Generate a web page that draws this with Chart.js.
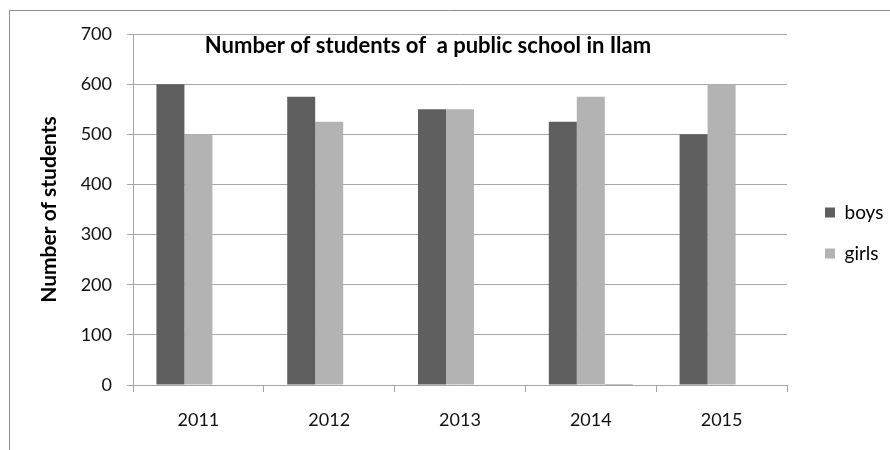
<!DOCTYPE html>
<html>
<head>
<meta charset="utf-8">
<script src="https://cdn.jsdelivr.net/npm/chart.js@4.4.1/dist/chart.umd.min.js"></script>
<style>
  html, body { margin: 0; padding: 0; background: #ffffff; }
  #wrap { position: relative; width: 890px; height: 450px; }
</style>
</head>
<body>
<div id="wrap"><canvas id="c" width="890" height="450"></canvas></div>
<script>
const categories = ['2011', '2012', '2013', '2014', '2015'];
const boys = [600, 575, 550, 525, 500];
const girls = [500, 525, 550, 575, 600];
const series3 = [0, 0, 0, 2, 0];
const yTicks = [0, 100, 200, 300, 400, 500, 600, 700];
const chartTitle = 'Number of students of  a public school in Ilam';
const yTitle = 'Number of students';

const FONT = 'Lato, "Open Sans", sans-serif';
const GRID = '#a6a6a6';

const framePlugin = {
  id: 'frame',
  afterInit(chart) {
    const lg = chart.legend;
    if (lg) {
      const origFit = lg.fit.bind(lg);
      lg.fit = function () { origFit(); this.width = 103; };
    }
  },
  afterLayout(chart) {
    const lg = chart.legend;
    if (lg) {
      lg.left = 803; lg.right = 890;
      lg.top = 181; lg.bottom = 310; lg.height = 129;
    }
  },
  beforeDraw(chart) {
    const ctx = chart.ctx;
    ctx.save();
    ctx.fillStyle = '#ffffff';
    ctx.fillRect(0, 0, chart.width, chart.height);
    ctx.strokeStyle = '#8c8c8c';
    ctx.lineWidth = 1;
    ctx.beginPath();
    ctx.moveTo(9.5, chart.height);
    ctx.lineTo(9.5, 10.5);
    ctx.lineTo(chart.width, 10.5);
    ctx.stroke();
    ctx.restore();
  },
  afterDraw(chart) {
    const ctx = chart.ctx;
    const a = chart.chartArea;
    ctx.save();
    ctx.font = 'bold 22px ' + FONT;
    ctx.fillStyle = '#000000';
    ctx.textAlign = 'center';
    ctx.textBaseline = 'middle';
    ctx.fillText(chartTitle, a.left + 295, a.top + 12);
    ctx.restore();
  }
};

new Chart(document.getElementById('c'), {
  type: 'bar',
  data: {
    labels: categories,
    datasets: [
      { label: 'boys', data: boys, backgroundColor: '#5f5f5f' },
      { label: 'girls', data: girls, backgroundColor: '#b3b3b3' },
      { label: 'Series3', data: series3, backgroundColor: '#8a8a8a' }
    ]
  },
  options: {
    responsive: false,
    animation: false,
    devicePixelRatio: 1,
    layout: { padding: { left: 10, top: 34, right: 0, bottom: 0 } },
    datasets: { bar: { categoryPercentage: 0.642, barPercentage: 1.0 } },
    plugins: {
      title: { display: false },
      tooltip: { enabled: false },
      legend: {
        position: 'right',
        align: 'start',
        labels: {
          boxWidth: 10,
          boxHeight: 10,
          padding: 22,
          color: '#000000',
          font: { family: FONT, size: 19 },
          filter: (item) => item.text !== 'Series3'
        }
      }
    },
    scales: {
      x: {
        grid: { display: true, drawOnChartArea: false, offset: true, tickLength: 7, color: GRID },
        border: { display: true, color: GRID },
        ticks: { color: '#111111', font: { family: FONT, size: 18 }, padding: 17 },
        afterFit(scale) { scale.height = 65; }
      },
      y: {
        min: 0,
        max: 700,
        afterBuildTicks(scale) { scale.ticks = yTicks.map(v => ({ value: v })); },
        grid: { color: GRID, tickLength: 6 },
        border: { display: true, color: GRID },
        ticks: { color: '#111111', font: { family: FONT, size: 18 }, padding: 15 },
        title: { display: true, text: yTitle, color: '#000000', font: { family: FONT, size: 21, weight: 'bold' }, padding: { top: 27, bottom: 0 } },
        afterFit(scale) { scale.width = 123; }
      }
    }
  },
  plugins: [framePlugin]
});
</script>
</body>
</html>
